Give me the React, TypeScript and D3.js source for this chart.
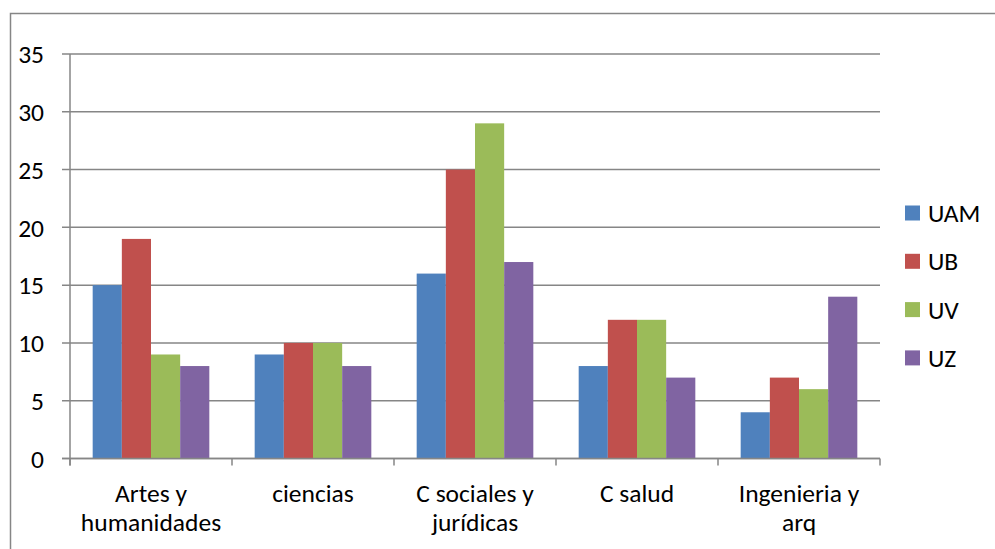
import React from "react";
import * as d3 from "d3";

const categories = [
  ["Artes y", "humanidades"],
  ["ciencias"],
  ["C sociales y", "jurídicas"],
  ["C salud"],
  ["Ingenieria y", "arq"],
];
const seriesNames = ["UAM", "UB", "UV", "UZ"];
const UAM = [15, 9, 16, 8, 4];
const UB = [19, 10, 25, 12, 7];
const UV = [9, 10, 29, 12, 6];
const UZ = [8, 8, 17, 7, 14];
const seriesValues = [UAM, UB, UV, UZ];
const colors = ["#4F81BD", "#C0504D", "#9BBB59", "#8064A2"];
const yTicks = [0, 5, 10, 15, 20, 25, 30, 35];

const W = 995;
const H = 549;
const plotL = 70;
const plotR = 880;
const plotT = 54;
const plotB = 458.5;
const font = "Carlito, Lato, sans-serif";
const fs = 25.5;
const axisColor = "#868686";

export default function App() {
  const x = d3
    .scaleBand<number>()
    .domain(d3.range(categories.length))
    .range([plotL, plotR])
    .paddingInner(0)
    .paddingOuter(0);
  const y = d3.scaleLinear().domain([0, 35]).range([plotB, plotT]);
  const band = x.bandwidth();
  const barW = band * 0.18;
  const groupW = barW * seriesNames.length;
  const offset = (band - groupW) / 2;

  return (
    <svg
      width={W}
      height={H}
      style={{ position: "absolute", left: 0, top: 0, background: "#fff" }}
    >
      <rect x={0} y={0} width={W} height={H} fill="#fff" />
      {/* outer border */}
      <path d={`M10.5,${H} V13.5 H${W}`} fill="none" stroke={axisColor} strokeWidth={1.5} />
      {/* gridlines */}
      {yTicks.map((t) => (
        <line
          key={t}
          x1={plotL - 8}
          x2={plotR}
          y1={y(t)}
          y2={y(t)}
          stroke={axisColor}
          strokeWidth={1.5}
        />
      ))}
      {/* bars */}
      {categories.map((_, ci) =>
        seriesValues.map((vals, si) => (
          <rect
            key={`${ci}-${si}`}
            x={(x(ci) as number) + offset + si * barW}
            y={y(vals[ci])}
            width={barW}
            height={y(0) - y(vals[ci])}
            fill={colors[si]}
          />
        ))
      )}
      {/* y axis */}
      <line x1={plotL} x2={plotL} y1={plotT} y2={plotB + 7} stroke={axisColor} strokeWidth={1.5} />
      {/* x axis */}
      <line x1={plotL - 8} x2={plotR} y1={plotB} y2={plotB} stroke={axisColor} strokeWidth={1.5} />
      {d3.range(categories.length + 1).map((i) => {
        const xx = plotL + i * band;
        return (
          <line key={i} x1={xx} x2={xx} y1={plotB} y2={plotB + 7} stroke={axisColor} strokeWidth={1.5} />
        );
      })}
      {/* y labels */}
      {yTicks.map((t) => (
        <text
          key={t}
          x={44}
          y={y(t)}
          dy="0.36em"
          textAnchor="end"
          fontFamily={font}
          fontSize={fs}
          fill="#000"
        >
          {t}
        </text>
      ))}
      {/* x labels */}
      {categories.map((lines, ci) => (
        <text
          key={ci}
          textAnchor="middle"
          fontFamily={font}
          fontSize={fs}
          fill="#000"
        >
          {lines.map((ln, li) => (
            <tspan key={li} x={(x(ci) as number) + band / 2} y={501.5 + li * 29}>
              {ln}
            </tspan>
          ))}
        </text>
      ))}
      {/* legend */}
      {seriesNames.map((n, i) => {
        const cy = 213 + i * 48.3;
        return (
          <g key={n}>
            <rect x={905} y={cy - 7.5} width={15} height={15} fill={colors[i]} />
            <text x={928} y={cy} dy="0.36em" fontFamily={font} fontSize={fs} fill="#000">
              {n}
            </text>
          </g>
        );
      })}
    </svg>
  );
}
